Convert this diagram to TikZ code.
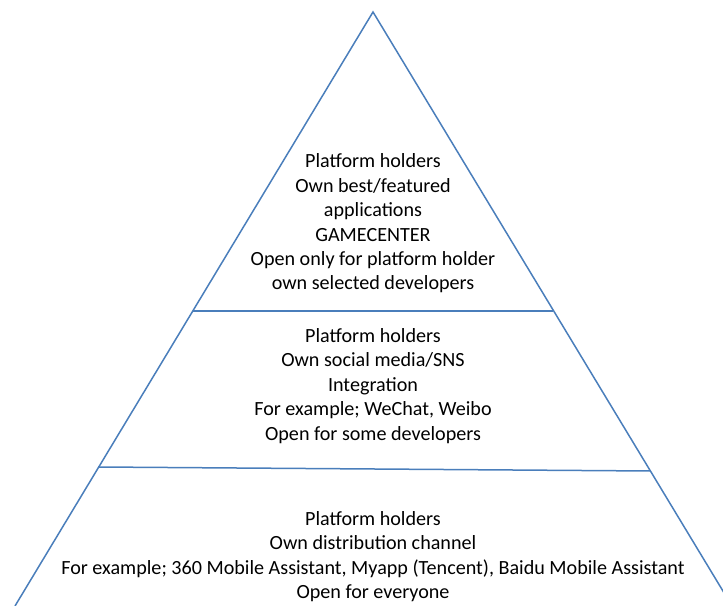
\documentclass[tikz,border=0pt]{standalone}
\usepackage{fontspec}
\setmainfont{Carlito}
\definecolor{edge}{HTML}{4A7EBB}

\begin{document}
\begin{tikzpicture}[x=1bp,y=1bp,inner sep=0pt,color=edge,line width=1.5bp,
  tier/.style={align=center,text=black,font=\fontsize{20.2}{24.5}\selectfont}]
\useasboundingbox(0,0) rectangle (723,606);
\clip (0,0) rectangle (723,606);
\coordinate (apex) at (373,594);
\coordinate (lbase) at (15,0);
\coordinate (rbase) at (732,0);
\draw (lbase) -- (apex) -- (rbase);
% dividers between the tiers
\coordinate (l1) at (193,295); \coordinate (r1) at (553,295);
\coordinate (l2) at (98,139);  \coordinate (r2) at (650,135);
\draw (l1) -- (r1);
\draw (l2) -- (r2);
\node[tier] (top) at (373,382.5) {Platform holders\\Own best/featured\\applications\\GAMECENTER\\Open only for platform holder\\own selected developers};
\node[tier] (mid) at (373,220) {Platform holders\\Own social media/SNS\\Integration\\For example; WeChat, Weibo\\Open for some developers};
\node[tier] (base) at (373,49.5) {Platform holders\\Own distribution channel\\For example; 360 Mobile Assistant, Myapp (Tencent), Baidu Mobile Assistant\\Open for everyone};
\end{tikzpicture}
\end{document}
